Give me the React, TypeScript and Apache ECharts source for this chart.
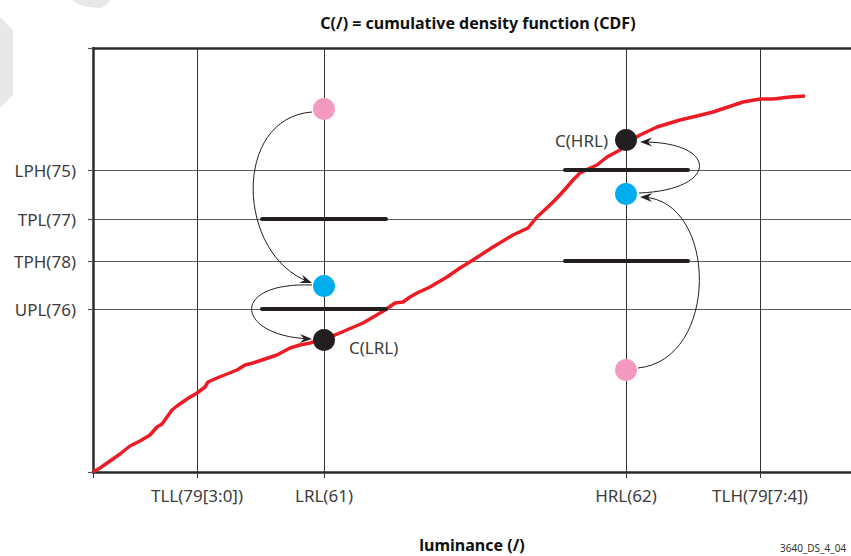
import React, { useEffect, useRef } from "react";
import * as echarts from "echarts";

const FONT = "Noto Sans";

const xMax = 758;
const yMax = 424;
const xTickValues = [104, 231, 533, 667];
const xTickLabels = ["TLL(79[3:0])", "LRL(61)", "HRL(62)", "TLH(79[7:4])"];
const yTickValues = [163, 211, 253, 302];
const yTickLabels = ["UPL(76)", "TPH(78)", "TPL(77)", "LPH(75)"];

const cdfX = [0, 7, 17, 27, 32, 37, 47, 57, 64, 69, 79, 84, 94, 104, 112, 115, 124, 134, 144, 152, 160, 172, 184, 197, 207, 217, 230, 242, 256, 270, 282, 292, 302, 310, 317, 324, 337, 354, 367, 380, 400, 420, 435, 444, 457, 465, 474, 480, 487, 495, 504, 514, 527, 534, 547, 564, 587, 604, 620, 635, 650, 667, 680, 697, 712];
const cdfY = [0, 4, 11, 18, 22, 26, 31, 37, 45, 48, 62, 66, 73, 79, 85, 90, 94, 98, 102, 107, 109, 113, 117, 124, 127, 129, 133, 137, 143, 149, 156, 162, 169, 170, 175, 179, 185, 195, 204, 212, 225, 237, 244, 255, 267, 275, 285, 292, 299, 303, 307, 315, 322, 329, 337, 345, 352, 356, 360, 365, 370, 373, 373, 375, 376];

// dots: [x, y]
const pinkDots = [[231, 363], [533, 102]];
const blueDots = [[231, 186], [533, 278]];
const blackDots = [[231, 132], [533, 332]];
const blackDotLabels = ["C(LRL)", "C(HRL)"];

// thick reference bars: y, xStart, xEnd
const barY = [253, 163, 302, 211];
const barXStart = [169, 169, 472, 472];
const barXEnd = [293, 293, 595, 595];

// arrows: start(x,y), control1(x,y), control2(x,y), end(x,y)
const arrows = [
  [219, 360, 139, 354, 143, 217, 219, 189],
  [219, 187, 135, 190, 143, 136, 219, 133],
  [545, 104, 627, 112, 625, 272, 547, 275],
  [546, 279, 626, 282, 626, 330, 547, 330],
];

export default function App() {
  const ref = useRef<HTMLDivElement>(null);
  useEffect(() => {
    const chart = echarts.init(ref.current!, null, { renderer: "svg" });
    const barSeries = barY.map((y, i) => ({
      type: "line",
      data: [[barXStart[i], y], [barXEnd[i], y]],
      symbol: "none",
      lineStyle: { color: "#231f20", width: 4, cap: "round" },
      z: 4,
      silent: true,
    }));
    const dotSeries = (data: number[][], color: string, z: number, labels?: string[]) => ({
      type: "scatter",
      symbolSize: 22,
      z,
      itemStyle: { color, opacity: 1 },
      data: data.map((d, i) => {
        const item: any = { value: d };
        if (labels) {
          item.label = {
            show: true,
            formatter: labels[i],
            position: i === 0 ? "right" : "left",
            distance: i === 0 ? 14 : 7,
            offset: i === 0 ? [0, 7] : [0, 0],
            fontFamily: FONT,
            fontSize: 17,
            color: "#3d3d3d",
          };
        }
        return item;
      }),
    });
    chart.setOption({
      animation: false,
      backgroundColor: "#ffffff",
      title: {
        text: "C(/) = cumulative density function (CDF)",
        left: 473,
        textAlign: "center",
        top: 10,
        textStyle: { fontFamily: FONT, fontSize: 16, fontWeight: "bold", color: "#111" },
      },
      grid: { left: 93, top: 48, right: 0, bottom: 84, containLabel: false, outerBoundsMode: "none" },
      xAxis: [
        {
          type: "value",
          min: 0,
          max: xMax,
          name: "luminance (/)",
          nameLocation: "middle",
          nameGap: 65,
          nameTextStyle: { fontFamily: FONT, fontSize: 16, fontWeight: "bold", color: "#111" },
          axisLine: { show: true, onZero: false, lineStyle: { color: "#2b2b2b", width: 2.5 } },
          axisTick: { show: true, customValues: [0, ...xTickValues], length: 6, lineStyle: { color: "#333", width: 1 } },
          axisLabel: {
            customValues: xTickValues,
            formatter: (v: number) => xTickLabels[xTickValues.indexOf(v)] ?? "",
            margin: 15,
            fontFamily: FONT,
            fontSize: 17,
            color: "#3d3d3d",
          },
          splitLine: { show: true, lineStyle: { color: "#333", width: 1 } },
        },
        {
          type: "value",
          position: "top",
          min: 0,
          max: xMax,
          axisLine: { show: true, onZero: false, lineStyle: { color: "#2b2b2b", width: 2.5 } },
          axisTick: { show: false },
          axisLabel: { show: false },
          splitLine: { show: false },
        },
      ],
      yAxis: {
        type: "value",
        min: 0,
        max: yMax,
        axisLine: { show: true, onZero: false, lineStyle: { color: "#2b2b2b", width: 2.5 } },
        axisTick: { show: true, customValues: [0, ...yTickValues, yMax], length: 5, lineStyle: { color: "#555", width: 1.2 } },
        axisLabel: {
          customValues: yTickValues,
          formatter: (v: number) => yTickLabels[yTickValues.indexOf(v)] ?? "",
          margin: 17,
          fontFamily: FONT,
          fontSize: 17,
          color: "#3d3d3d",
        },
        splitLine: { show: true, lineStyle: { color: "#5a5a5a", width: 1.2 } },
      },
      graphic: [
        { type: "polygon", z: -10, shape: { points: [[0, 17], [13, 30], [13, 95], [0, 108]] }, style: { fill: "#e8e8e8" } },
        { type: "polygon", z: -10, shape: { points: [[72, 0], [110, 0], [106, 6], [100, 8], [88, 7], [80, 5]] }, style: { fill: "#e8e8e8" } },
        { type: "text", x: 780, y: 543, style: { text: "3640_DS_4_04", fontFamily: FONT, fontSize: 10, fill: "#333" } },
      ],
      series: [
        {
          type: "line",
          data: cdfX.map((x, i) => [x, cdfY[i]]),
          symbol: "none",
          lineStyle: { color: "#ed1c24", width: 3.5, join: "round" },
          z: 3,
          silent: true,
        },
        ...barSeries,
        dotSeries(pinkDots, "#f49ac1", 6),
        dotSeries(blueDots, "#00aeef", 6),
        dotSeries(blackDots, "#231f20", 6, blackDotLabels),
        {
          type: "custom",
          clip: false,
          z: 7,
          silent: true,
          encode: { x: [0, 2, 4, 6], y: [1, 3, 5, 7] },
          data: arrows,
          renderItem: (params: any, api: any) => {
            const p0 = api.coord([api.value(0), api.value(1)]);
            const c1 = api.coord([api.value(2), api.value(3)]);
            const c2 = api.coord([api.value(4), api.value(5)]);
            const p3 = api.coord([api.value(6), api.value(7)]);
            const dx = p3[0] - c2[0];
            const dy = p3[1] - c2[1];
            const len = Math.hypot(dx, dy) || 1;
            const ux = dx / len, uy = dy / len;
            const nx = -uy, ny = ux;
            const L = 12, W = 4.5, N = 8;
            return {
              type: "group",
              children: [
                {
                  type: "bezierCurve",
                  shape: { x1: p0[0], y1: p0[1], cpx1: c1[0], cpy1: c1[1], cpx2: c2[0], cpy2: c2[1], x2: p3[0] - ux * 3, y2: p3[1] - uy * 3 },
                  style: { stroke: "#231f20", lineWidth: 1, fill: null },
                },
                {
                  type: "polygon",
                  shape: {
                    points: [
                      [p3[0], p3[1]],
                      [p3[0] - ux * L + nx * W, p3[1] - uy * L + ny * W],
                      [p3[0] - ux * N, p3[1] - uy * N],
                      [p3[0] - ux * L - nx * W, p3[1] - uy * L - ny * W],
                    ],
                  },
                  style: { fill: "#231f20" },
                },
              ],
            };
          },
        },
      ],
    });
    return () => chart.dispose();
  }, []);
  return <div ref={ref} style={{ position: "fixed", left: 0, top: 0, width: 851, height: 556 }} />;
}
